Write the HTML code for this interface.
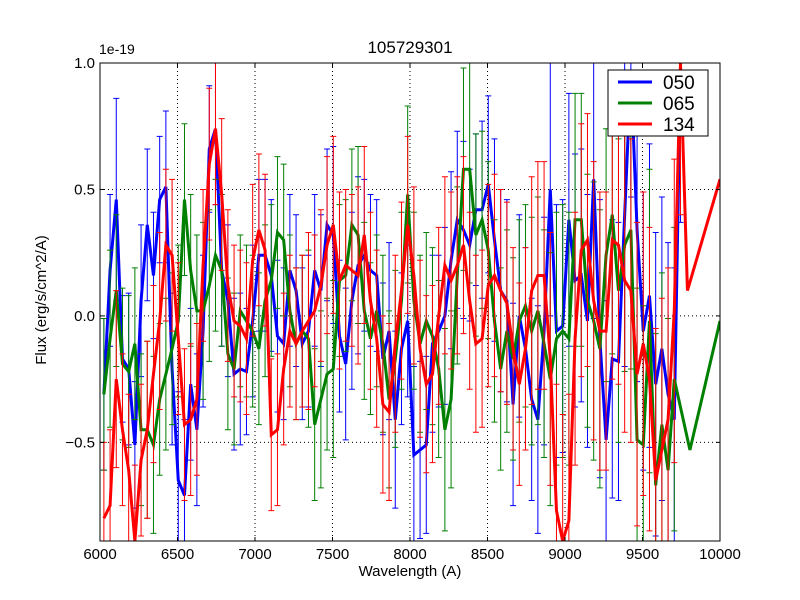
<!DOCTYPE html>
<html><head><meta charset="utf-8"><style>
html,body{margin:0;padding:0;background:#fff;overflow:hidden;width:800px;height:600px;}
svg{display:block;font-family:"Liberation Sans","DejaVu Sans",sans-serif;}
</style></head><body>
<svg id="chart" width="800" height="600">
<rect x="0" y="0" width="800" height="600" fill="#fff"/>
<g id="grid"></g>
<g id="plot" clip-path="url(#clip)"></g>
<defs><clipPath id="clip"><rect x="100" y="63" width="620" height="478"/></clipPath></defs>
<rect x="100" y="63" width="620" height="478" fill="none" stroke="#000" stroke-width="1"/>
<g id="ticks"></g>
<text x="410" y="53" font-size="17" text-anchor="middle">105729301</text>
<text x="99" y="54" font-size="14">1e-19</text>
<text x="410" y="576" font-size="15" text-anchor="middle">Wavelength (A)</text>
<text x="46" y="300" font-size="15" text-anchor="middle" transform="rotate(-90 46 300)">Flux (erg/s/cm^2/A)</text>
<g>
<rect x="608" y="70" width="100" height="66" fill="#fff" stroke="#000" stroke-width="1"/>
<line x1="618" y1="82" x2="652" y2="82" stroke="#0000ff" stroke-width="3"/>
<text x="663" y="89" font-size="19">050</text>
<line x1="618" y1="103" x2="652" y2="103" stroke="#008000" stroke-width="3"/>
<text x="663" y="110" font-size="19">065</text>
<line x1="618" y1="124" x2="652" y2="124" stroke="#ff0000" stroke-width="3"/>
<text x="663" y="131" font-size="19">134</text>
</g>
</svg>
<script>
const wavelengths=[6025,6065,6105,6145,6185,6225,6265,6305,6345,6385,6425,6465,6505,6545,6585,6625,6665,6705,6745,6785,6825,6865,6905,6945,6985,7025,7065,7105,7145,7185,7225,7265,7305,7345,7385,7425,7465,7505,7545,7585,7625,7665,7705,7745,7785,7825,7865,7905,7945,7985,8025,8065,8105,8145,8185,8225,8265,8305,8345,8385,8425,8465,8505,8545,8585,8625,8665,8705,8745,8785,8825,8865,8905,8945,8985,9025,9065,9105,9145,9185,9225,9265,9305,9345,9385,9425,9465,9505,9545,9585,9625,9665,9705,9745];
const blueVals=[-0.31,0.18,0.46,-0.17,-0.21,-0.51,0.06,0.36,0.16,0.46,0.51,-0.21,-0.65,-0.71,-0.27,-0.45,-0.06,0.66,0.74,0.18,0.06,-0.23,-0.21,-0.22,-0.02,0.24,0.24,0.16,-0.08,-0.11,0.18,0.10,-0.11,-0.06,0.18,0.10,0.36,0.32,-0.08,-0.19,0.06,0.20,0.24,0.18,0.16,-0.17,-0.06,-0.41,-0.13,-0.02,-0.55,-0.53,-0.51,-0.11,-0.06,0.00,0.22,0.38,0.34,0.28,0.42,0.42,0.52,0.30,0.10,0.06,-0.35,0.00,-0.13,-0.33,-0.41,-0.06,0.50,-0.06,-0.04,0.38,0.14,0.16,-0.02,0.54,-0.09,-0.49,-0.17,-0.18,0.40,0.97,0.34,-0.06,0.08,-0.27,-0.13,-0.31,-0.41,0.97];
const blueErr=[0.3,0.3,0.4,0.25,0.3,0.25,0.3,0.3,0.25,0.25,0.3,0.3,0.35,0.3,0.3,0.3,0.3,0.25,0.3,0.3,0.3,0.3,0.3,0.25,0.3,0.3,0.3,0.3,0.3,0.3,0.3,0.3,0.3,0.3,0.3,0.3,0.3,0.35,0.3,0.3,0.35,0.35,0.3,0.3,0.3,0.3,0.35,0.35,0.3,0.3,0.35,0.35,0.35,0.35,0.3,0.35,0.35,0.35,0.35,0.3,0.3,0.35,0.35,0.4,0.4,0.4,0.4,0.4,0.4,0.4,0.45,0.45,0.5,0.5,0.5,0.5,0.5,0.5,0.5,0.55,0.55,0.55,0.55,0.55,0.6,0.5,0.6,0.55,0.6,0.6,0.6,0.6,0.6,0.6];
const greenVals=[-0.31,-0.09,0.10,-0.19,-0.22,-0.11,-0.45,-0.45,-0.51,-0.33,-0.23,-0.13,-0.02,0.46,0.18,0.02,0.02,0.12,0.24,0.18,-0.15,-0.21,0.02,-0.02,-0.06,-0.13,0.06,0.14,0.33,0.30,0.02,-0.11,-0.06,-0.09,-0.43,-0.33,-0.23,-0.21,0.14,0.16,0.36,0.32,0.02,-0.09,0.02,-0.11,-0.33,-0.17,0.06,0.48,0.06,-0.11,-0.02,-0.08,-0.21,-0.45,-0.33,0.16,0.58,0.58,0.32,0.38,0.26,-0.02,-0.21,-0.06,-0.17,-0.02,0.04,-0.06,0.02,-0.11,-0.25,-0.09,-0.06,-0.09,0.38,0.38,0.06,-0.02,-0.13,0.24,0.40,0.10,0.28,0.34,-0.49,-0.51,-0.02,-0.67,-0.43,-0.61,-0.25];
const greenErr=[0.3,0.35,0.3,0.3,0.3,0.3,0.3,0.35,0.35,0.3,0.3,0.3,0.3,0.3,0.3,0.3,0.35,0.3,0.3,0.3,0.3,0.3,0.3,0.3,0.3,0.3,0.3,0.3,0.3,0.3,0.3,0.3,0.3,0.35,0.3,0.35,0.3,0.35,0.3,0.3,0.3,0.35,0.35,0.3,0.3,0.35,0.35,0.35,0.35,0.35,0.35,0.35,0.35,0.35,0.35,0.4,0.35,0.35,0.4,0.45,0.4,0.35,0.35,0.4,0.4,0.4,0.4,0.4,0.4,0.45,0.45,0.45,0.5,0.5,0.5,0.5,0.5,0.5,0.5,0.55,0.55,0.5,0.55,0.6,0.5,0.55,0.6,0.55,0.6,0.6,0.6,0.6,0.6];
const greenTailW=[9806,10000];
const greenTailV=[-0.53,-0.02];
const redVals=[-0.80,-0.75,-0.25,-0.45,-0.61,-0.89,-0.57,-0.45,-0.23,-0.02,0.28,0.24,-0.09,-0.43,-0.41,-0.33,0.20,0.60,0.74,0.48,0.12,-0.02,-0.04,-0.09,0.22,0.34,0.26,-0.47,-0.45,-0.21,-0.06,-0.11,-0.06,-0.02,0.02,0.12,0.28,0.36,0.14,0.20,0.18,0.16,0.32,0.06,-0.09,-0.35,-0.38,-0.11,0.10,0.36,0.16,-0.13,-0.27,-0.23,0.00,0.20,0.14,0.20,0.28,0.06,-0.11,-0.09,0.12,0.16,0.10,0.05,-0.13,-0.27,-0.13,0.10,0.16,0.16,-0.17,-0.77,-0.89,-0.81,-0.09,0.26,0.30,0.06,-0.06,-0.06,0.30,0.28,0.14,0.10,-0.23,-0.11,-0.25,-0.65,-0.53,-0.41,0.02,1.0];
const redErr=[0.3,0.3,0.35,0.3,0.3,0.3,0.3,0.35,0.35,0.35,0.3,0.3,0.3,0.3,0.3,0.3,0.3,0.3,0.3,0.3,0.3,0.3,0.3,0.3,0.3,0.3,0.3,0.3,0.3,0.3,0.3,0.3,0.3,0.35,0.3,0.3,0.35,0.35,0.35,0.3,0.3,0.35,0.35,0.35,0.35,0.35,0.35,0.35,0.35,0.35,0.35,0.35,0.35,0.35,0.35,0.35,0.35,0.35,0.35,0.35,0.35,0.35,0.4,0.4,0.4,0.4,0.4,0.4,0.4,0.45,0.45,0.45,0.5,0.5,0.5,0.5,0.5,0.5,0.5,0.55,0.55,0.55,0.55,0.55,0.6,0.6,0.6,0.6,0.6,0.6,0.6,0.6,0.6,0.6];
const redTailW=[9790,10000];
const redTailV=[0.10,0.54];
const xTicks=[6000,6500,7000,7500,8000,8500,9000,9500,10000];
const xTickLabels=["6000","6500","7000","7500","8000","8500","9000","9500","10000"];
const yTicks=[-0.5,0,0.5,1.0];
const yTickLabels=["\u22120.5","0.0","0.5","1.0"];

const NS="http://www.w3.org/2000/svg";
const X0=100,X1=720,Y0=541,Y1=63,XMIN=6000,XMAX=10000,YMIN=-0.89,YMAX=1.0;
function xs(w){return X0+(w-XMIN)/(XMAX-XMIN)*(X1-X0);}
function ys(v){return Y0-(v-YMIN)/(YMAX-YMIN)*(Y0-Y1);}
function clampY(y){return Math.max(Y1,Math.min(Y0,y));}
function mk(tag,attrs,parent){const e=document.createElementNS(NS,tag);for(const k in attrs)e.setAttribute(k,attrs[k]);parent.appendChild(e);return e;}
const grid=document.getElementById('grid'),ticks=document.getElementById('ticks'),plot=document.getElementById('plot');
xTicks.forEach((t,i)=>{
  const x=xs(t);
  const g=mk('line',{x1:x,y1:Y1,x2:x,y2:Y0,stroke:'#000','stroke-dasharray':'1,3','stroke-width':1},grid);
  
  
  mk('line',{x1:x,y1:Y0,x2:x,y2:Y0-4,stroke:'#000'},ticks);
  mk('line',{x1:x,y1:Y1,x2:x,y2:Y1+4,stroke:'#000'},ticks);
  const tx=mk('text',{x:x,y:Y0+18,'font-size':15,'text-anchor':'middle'},ticks);
  tx.textContent=xTickLabels[i];
  
  
});
yTicks.forEach((t,i)=>{
  const y=ys(t);
  const g=mk('line',{x1:X0,y1:y,x2:X1,y2:y,stroke:'#000','stroke-dasharray':'1,3','stroke-width':1},grid);
  
  
  mk('line',{x1:X0,y1:y,x2:X0+4,y2:y,stroke:'#000'},ticks);
  mk('line',{x1:X1,y1:y,x2:X1-4,y2:y,stroke:'#000'},ticks);
  const tx=mk('text',{x:X0-5,y:y+5,'font-size':15,'text-anchor':'end'},ticks);
  tx.textContent=yTickLabels[i];
  
  
});
function series(name,color,vals,errs,tw,tv){
  const n=Math.min(vals.length,wavelengths.length);
  const g=mk('g',{},plot);
  
  
  for(let i=0;i<n;i++){
    const x=xs(wavelengths[i]),e=errs[i%errs.length];
    const ra=ys(vals[i]+e),rb=ys(vals[i]-e);
    const a=clampY(ra),b=clampY(rb);
    let d=`M${x},${a}V${b}`;
    if(ra>=Y1)d+=`M${x-3},${a}H${x+3}`;
    if(rb<=Y0)d+=`M${x-3},${b}H${x+3}`;
    const eb=mk('path',{d:d,stroke:color,'stroke-width':1,fill:'none'},g);
    
    
  }
  let pts=[];
  for(let i=0;i<n;i++)pts.push(xs(wavelengths[i])+','+clampY(ys(vals[i])));
  if(tw)for(let i=0;i<tw.length;i++)pts.push(xs(tw[i])+','+clampY(ys(tv[i])));
  const l=mk('polyline',{points:pts.join(' '),stroke:color,'stroke-width':3,fill:'none','stroke-linejoin':'miter'},g);
  
  
}
series('050','#0000ff',blueVals,blueErr);
series('065','#008000',greenVals,greenErr,greenTailW,greenTailV);
series('134','#ff0000',redVals,redErr,redTailW,redTailV);
</script>
</body></html>
